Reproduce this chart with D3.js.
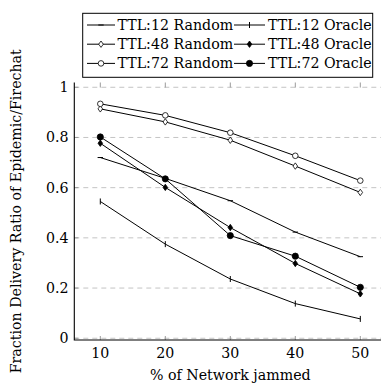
<!DOCTYPE html>
<html>
<head>
<meta charset="utf-8">
<script src="https://cdn.jsdelivr.net/npm/d3@7"></script>
<style>
	body { margin: 0; background: #fff; }
	svg text { font-family: "DejaVu Serif", "Liberation Serif", "Times New Roman", Times, serif !important; }
</style>
</head>
<body>
<div id="chart"></div>
<script>
// Data
const jammed = [10, 20, 30, 40, 50];
const xTicks = [10, 20, 30, 40, 50];
const yTicks = [0, 0.2, 0.4, 0.6, 0.8, 1];

const ttl12Random = [0.720, 0.637, 0.548, 0.423, 0.325];
const ttl12Oracle = [0.545, 0.375, 0.236, 0.138, 0.077];
const ttl48Random = [0.914, 0.862, 0.789, 0.686, 0.581];
const ttl48Oracle = [0.777, 0.601, 0.441, 0.298, 0.177];
const ttl72Random = [0.934, 0.888, 0.819, 0.727, 0.628];
const ttl72Oracle = [0.802, 0.635, 0.409, 0.327, 0.203];

const seriesNames = ["TTL:12 Random", "TTL:12 Oracle", "TTL:48 Random", "TTL:48 Oracle", "TTL:72 Random", "TTL:72 Oracle"];
const seriesValues = [ttl12Random, ttl12Oracle, ttl48Random, ttl48Oracle, ttl72Random, ttl72Oracle];
const seriesMarks = ["hbar", "vbar", "diamond", "diamondFilled", "circle", "circleFilled"];

const params = {
	width: 381,
	height: 385,
	left: 74.3,
	right: 386.3,
	top: 82.5,
	bottom: 340,
	fontSize: 14.2,
	font: "DejaVu Serif"
}

// Draw a single marker of the given kind at (x, y)
const drawMark = (g, kind, x, y) => {
	if (kind === "hbar") {
		g.append("line").attr("x1", x - 2.7).attr("x2", x + 2.7).attr("y1", y).attr("y2", y)
			.attr("stroke", "#000").attr("stroke-width", 1)
	} else if (kind === "vbar") {
		g.append("line").attr("x1", x).attr("x2", x).attr("y1", y - 3).attr("y2", y + 3)
			.attr("stroke", "#000").attr("stroke-width", 1)
	} else if (kind === "diamond" || kind === "diamondFilled") {
		g.append("path")
			.attr("d", `M${x},${y - 3.2}L${x + 2.3},${y}L${x},${y + 3.2}L${x - 2.3},${y}Z`)
			.attr("fill", kind === "diamond" ? "#fff" : "#000")
			.attr("stroke", "#000").attr("stroke-width", 0.8)
	} else {
		g.append("circle").attr("cx", x).attr("cy", y)
			.attr("r", kind === "circle" ? 2.8 : 3.1)
			.attr("fill", kind === "circle" ? "#fff" : "#000")
			.attr("stroke", "#000").attr("stroke-width", 0.8)
	}
}

const main = () => {
	const svg = d3.select("#chart").append("svg")
		.attr("width", params.width)
		.attr("height", params.height)

	const xScale = d3.scaleLinear().domain([6, 54]).range([params.left, params.right])
	const yScale = d3.scaleLinear().domain([-0.007, 1.019]).range([params.bottom, params.top])

	// dashed horizontal grid
	svg.append("g")
		.selectAll("line")
		.data(yTicks)
		.join("line")
		.attr("x1", params.left)
		.attr("x2", params.right)
		.attr("y1", d => yScale(d))
		.attr("y2", d => yScale(d))
		.attr("stroke", "#c4c4c4")
		.attr("stroke-width", 1)
		.attr("stroke-dasharray", "5,4")

	// gray tick marks (inside, mirrored on top)
	const ticks = svg.append("g").attr("stroke", "#9a9a9a").attr("stroke-width", 1)
	ticks.selectAll(".xb").data(xTicks).join("line")
		.attr("x1", d => xScale(d)).attr("x2", d => xScale(d))
		.attr("y1", params.bottom).attr("y2", params.bottom - 4)
	ticks.selectAll(".xt").data(xTicks).join("line")
		.attr("x1", d => xScale(d)).attr("x2", d => xScale(d))
		.attr("y1", params.top).attr("y2", params.top + 5)
	ticks.selectAll(".yl").data(yTicks).join("line")
		.attr("x1", params.left).attr("x2", params.left + 4)
		.attr("y1", d => yScale(d)).attr("y2", d => yScale(d))

	// axis lines, left and bottom only
	svg.append("path")
		.attr("d", `M${params.left},${params.top}V${params.bottom}H${params.right}`)
		.attr("fill", "none")
		.attr("stroke", "#000")
		.attr("stroke-width", 1.1)

	// tick labels
	svg.append("g")
		.selectAll("text")
		.data(xTicks)
		.join("text")
		.attr("x", d => xScale(d))
		.attr("y", 357.5)
		.attr("text-anchor", "middle")
		.attr("font-family", params.font)
		.attr("font-size", params.fontSize)
		.text(d => d)

	svg.append("g")
		.selectAll("text")
		.data(yTicks)
		.join("text")
		.attr("x", 68.5)
		.attr("y", d => yScale(d) + 5)
		.attr("text-anchor", "end")
		.attr("font-family", params.font)
		.attr("font-size", params.fontSize)
		.text(d => d3.format("~g")(d))

	// axis titles
	svg.append("text")
		.attr("x", xScale(30))
		.attr("y", 380)
		.attr("text-anchor", "middle")
		.attr("font-family", params.font)
		.attr("font-size", params.fontSize)
		.text("% of Network jammed")

	svg.append("text")
		.attr("transform", `translate(21, ${(params.top + params.bottom) / 2}) rotate(-90)`)
		.attr("text-anchor", "middle")
		.attr("font-family", params.font)
		.attr("font-size", params.fontSize)
		.text("Fraction Delivery Ratio of Epidemic/Firechat")

	// lines and markers
	const lineGenerator = d3.line()
		.x((d, i) => xScale(jammed[i]))
		.y(d => yScale(d))

	const plot = svg.append("g")
	seriesValues.forEach((values, s) => {
		plot.append("path")
			.attr("d", lineGenerator(values))
			.attr("fill", "none")
			.attr("stroke", "#000")
			.attr("stroke-width", 1)
	})
	seriesValues.forEach((values, s) => {
		values.forEach((v, i) => drawMark(plot, seriesMarks[s], xScale(jammed[i]), yScale(v)))
	})

	// legend
	const legend = svg.append("g")
	legend.append("rect")
		.attr("x", 82.7).attr("y", 13.3)
		.attr("width", 290).attr("height", 64)
		.attr("fill", "#fff")
		.attr("stroke", "#000")
		.attr("stroke-width", 1)

	const colX = [[87, 115, 117.5], [234, 265, 268]];
	seriesNames.forEach((name, s) => {
		const col = s % 2;
		const row = Math.floor(s / 2);
		const y = 25 + row * 19.2;
		const [x1, x2, tx] = colX[col];
		legend.append("line")
			.attr("x1", x1).attr("x2", x2).attr("y1", y).attr("y2", y)
			.attr("stroke", "#000").attr("stroke-width", 1)
		drawMark(legend, seriesMarks[s], (x1 + x2) / 2, y)
		legend.append("text")
			.attr("x", tx)
			.attr("y", y + 5)
			.attr("font-family", params.font)
			.attr("font-size", params.fontSize)
			.text(name)
	})
}

main();
</script>
</body>
</html>
